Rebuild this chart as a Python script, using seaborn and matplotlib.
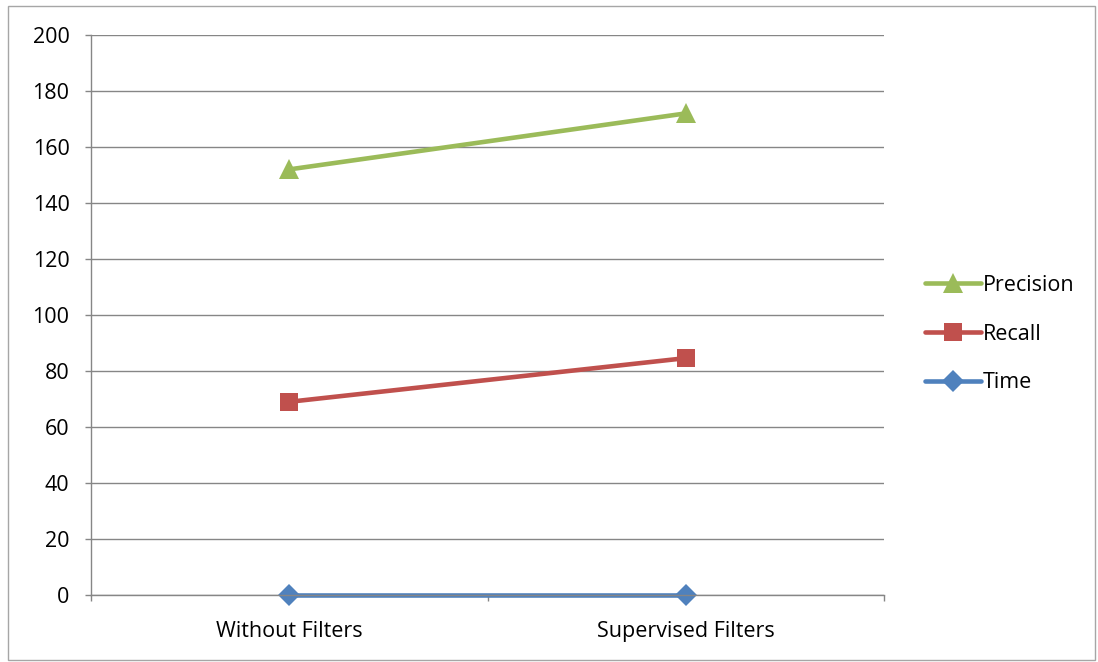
import pandas as pd
import matplotlib
matplotlib.use("Agg")
import matplotlib.pyplot as plt
import seaborn as sns
from matplotlib.patches import Rectangle
from matplotlib.ticker import FixedLocator

# Data
categories = ["Without Filters", "Supervised Filters"]
precision = [152, 172]
recall = [69, 84.6]
time_vals = [0, 0]

series_names = ["Precision", "Recall", "Time"]
series_values = [precision, recall, time_vals]
colors = {"Precision": "#9BBB59", "Recall": "#C0504D", "Time": "#4F81BD"}
markers = {"Precision": "^", "Recall": "s", "Time": "D"}
marker_sizes = {"Precision": 14, "Recall": 13.5, "Time": 11.5}

sns.set_style("white")
plt.rcParams["font.family"] = ["Open Sans", "DejaVu Sans"]
plt.rcParams["text.color"] = "black"
plt.rcParams["xtick.color"] = "black"
plt.rcParams["ytick.color"] = "black"

fig = plt.figure(figsize=(10.98, 6.62), dpi=100)
ax = fig.add_axes([91 / 1098, 67 / 662, (884 - 91) / 1098, (595 - 35) / 662])

# draw Time first so the upper series sit on top
for name, vals in reversed(list(zip(series_names, series_values))):
    df = pd.DataFrame({"category": categories, "value": vals})
    sns.lineplot(data=df, x="category", y="value", ax=ax, color=colors[name],
                 linewidth=3.3, marker=markers[name], markersize=marker_sizes[name],
                 markeredgewidth=0, label=name, sort=False, clip_on=False)

ax.set_xlim(-0.5, 1.5)
ax.set_ylim(0, 200)
ax.set_yticks(range(0, 201, 20))
ax.set_xlabel("")
ax.set_ylabel("")

grid_c = "#868686"
ax.yaxis.grid(True, color=grid_c, linewidth=1)
ax.xaxis.grid(False)
ax.set_axisbelow(True)
for side in ["top", "right"]:
    ax.spines[side].set_visible(False)
for side in ["left", "bottom"]:
    ax.spines[side].set_color(grid_c)
    ax.spines[side].set_linewidth(1)

ax.tick_params(axis="y", which="major", length=4.5, width=1, color=grid_c,
               labelcolor="black", direction="out", pad=11, labelsize=15.5, left=True)
ax.tick_params(axis="x", which="major", length=0, pad=18.5, labelsize=15.5,
               labelcolor="black")
ax.xaxis.set_minor_locator(FixedLocator([-0.5, 0.5, 1.5]))
ax.tick_params(axis="x", which="minor", length=4.5, width=1, color=grid_c,
               direction="out", bottom=True)

handles, labels = ax.get_legend_handles_labels()
order = [labels.index(n) for n in series_names]
ax.legend([handles[i] for i in order], [labels[i] for i in order],
          loc="center left", bbox_to_anchor=(914 / 1098, 1 - 334 / 662),
          bbox_transform=fig.transFigure, frameon=False, fontsize=15.5,
          handlelength=2.6, handletextpad=0.1, labelspacing=1.3, borderpad=0)

# chart area border
fig.patches.append(Rectangle((8 / 1098, 2 / 662), 1087 / 1098, 654 / 662,
                             transform=fig.transFigure, fill=False,
                             edgecolor="#A6A6A6", linewidth=1))

fig.savefig("out.png", dpi=100)
